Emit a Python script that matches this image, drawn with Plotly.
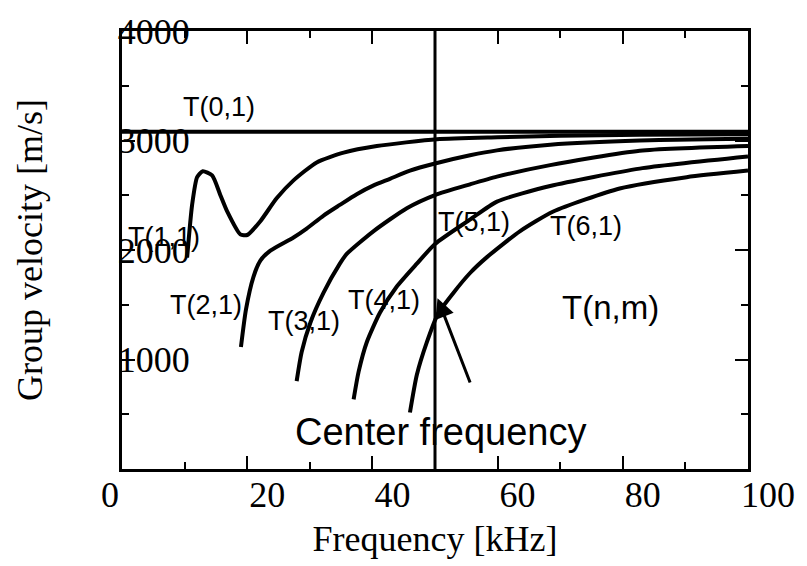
import plotly.graph_objects as go

# ---- data ----
t01_f = [0, 100]
t01_v = [3080, 3080]

t11_f = [10.4, 11.2, 12.0, 12.9, 14.4, 15.7, 16.8, 18.9, 20.0, 22.1, 24.7, 27.4, 31.1, 35.4, 40.7, 50.3, 60.0, 70.0, 82.7, 100]
t11_v = [1930, 2412, 2665, 2719, 2681, 2503, 2352, 2143, 2137, 2263, 2472, 2636, 2800, 2889, 2949, 3012, 3030, 3043, 3052, 3058]

t21_f = [19.0, 19.8, 21.0, 22.1, 23.7, 27.4, 29.5, 32.2, 34.8, 37.5, 40.2, 42.8, 46.0, 50.0, 55.6, 59.9, 68.4, 82.7, 100]
t21_v = [1114, 1456, 1755, 1904, 1994, 2114, 2195, 2315, 2412, 2510, 2590, 2650, 2725, 2790, 2865, 2910, 2962, 3000, 3015]

t31_f = [27.9, 28.7, 30.1, 32.2, 34.8, 35.9, 40.2, 45.5, 50.0, 55.6, 59.9, 68.4, 82.7, 100]
t31_v = [802, 1069, 1338, 1610, 1875, 1964, 2173, 2382, 2502, 2600, 2670, 2775, 2906, 2949]

t41_f = [37.0, 37.8, 39.1, 41.2, 43.9, 47.1, 50.0, 55.6, 59.9, 68.4, 82.7, 100]
t41_v = [636, 889, 1158, 1427, 1666, 1875, 2055, 2278, 2442, 2585, 2743, 2853]

t51_f = [46.0, 47.1, 48.7, 50.5, 52.9, 55.6, 58.3, 63.6, 68.9, 79.5, 90.2, 100]
t51_v = [516, 860, 1158, 1420, 1606, 1790, 1935, 2173, 2352, 2562, 2665, 2725]

center_freq = 50.0

mode_labels = ["T(0,1)", "T(1,1)", "T(2,1)", "T(3,1)", "T(4,1)", "T(5,1)", "T(6,1)"]
label_f = [15.5, 6.75, 13.4, 29.0, 41.9, 56.2, 74.2]
label_v = [3308, 2117, 1494, 1355, 1546, 2255, 2218]

x_tick_vals = [0, 20, 40, 60, 80, 100]
x_tick_text = ["0", "20", "40", "60", "80", "100"]
y_tick_vals = [1000, 2000, 3000, 4000]
y_tick_text = ["1000", "2000", "3000", "4000"]

# ---- figure ----
fig = go.Figure()
curves = [
    ("T(0,1)", t01_f, t01_v),
    ("T(1,1)", t11_f, t11_v),
    ("T(2,1)", t21_f, t21_v),
    ("T(3,1)", t31_f, t31_v),
    ("T(4,1)", t41_f, t41_v),
    ("T(5,1)", t51_f, t51_v),
]
for name, f, v in curves:
    fig.add_trace(go.Scatter(x=f, y=v, mode="lines", name=name,
                             line=dict(color="black", width=4, shape="spline", smoothing=0.6),
                             showlegend=False))

# centre-frequency line
fig.add_trace(go.Scatter(x=[center_freq, center_freq], y=[0, 4000], mode="lines",
                         line=dict(color="black", width=3), showlegend=False))

sans = "Liberation Sans"
serif = "Liberation Serif"

for txt, fx, vy in zip(mode_labels, label_f, label_v):
    fig.add_annotation(x=fx, y=vy, text=txt, showarrow=False,
                       font=dict(family=sans, size=27, color="black"),
                       xanchor="center", yanchor="middle")

fig.add_annotation(x=78.1, y=1472, text="T(n,m)", showarrow=False,
                   font=dict(family=sans, size=33, color="black"),
                   xanchor="center", yanchor="middle")
fig.add_annotation(x=50.9, y=334, text="Center frequency", showarrow=False,
                   font=dict(family=sans, size=38, color="black"),
                   xanchor="center", yanchor="middle")
# arrow
fig.add_annotation(x=50.4, y=1560, ax=55.7, ay=776, axref="x", ayref="y",
                   xref="x", yref="y", text="", showarrow=True,
                   arrowhead=2, arrowsize=1.3, arrowwidth=3, arrowcolor="black")

# "0" tick label of the x axis sits left of its tick in the reference
fig.add_annotation(x=x_tick_vals[0], y=-0.009, xref="x", yref="paper",
                   text=x_tick_text[0], showarrow=False,
                   font=dict(family=serif, size=36, color="black"),
                   xanchor="right", yanchor="top", xshift=-1)

fig.update_layout(
    width=807, height=566,
    margin=dict(l=122, r=59, t=23, b=97),
    paper_bgcolor="white", plot_bgcolor="white",
    font=dict(family=serif, color="black"),
)
fig.update_xaxes(
    range=[0, 100], showgrid=False, zeroline=False,
    showline=True, linecolor="black", linewidth=3, mirror="ticks",
    ticks="inside", ticklen=13, tickwidth=2, tickcolor="black",
    tickvals=x_tick_vals, ticktext=[""] + x_tick_text[1:],
    tickfont=dict(family=serif, size=36, color="black"),
    ticklabelshift=20, ticklabelstandoff=-8,
    minor=dict(ticks="inside", ticklen=7, tickwidth=2, tickcolor="black", dtick=10, tick0=0),
    title=dict(text="Frequency [kHz]", font=dict(family=serif, size=36, color="black"), standoff=12),
)
fig.update_yaxes(
    range=[0, 4000], showgrid=False, zeroline=False,
    showline=True, linecolor="black", linewidth=3, mirror="ticks",
    ticks="inside", ticklen=13, tickwidth=2, tickcolor="black",
    tickvals=y_tick_vals, ticktext=y_tick_text,
    tickfont=dict(family=serif, size=36, color="black"),
    ticklabelposition="inside", ticklabeloverflow="allow", ticklabelstandoff=-13,
    minor=dict(ticks="inside", ticklen=7, tickwidth=2, tickcolor="black", dtick=500, tick0=0),
    title=dict(text="Group velocity [m/s]", font=dict(family=serif, size=36, color="black"), standoff=65),
)

fig.write_html("out.html")
